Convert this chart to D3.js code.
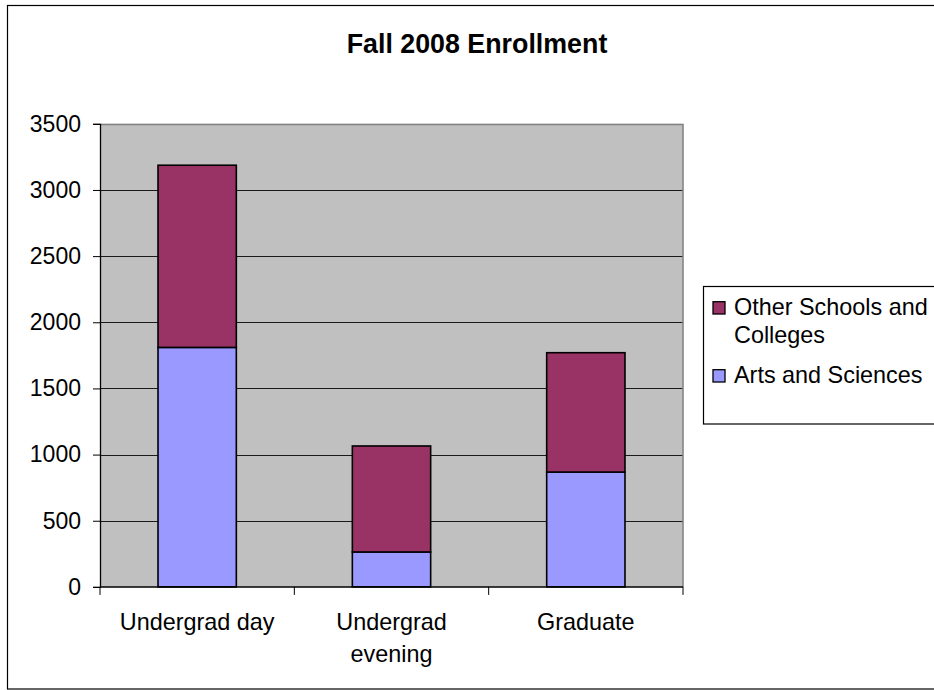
<!DOCTYPE html>
<html>
<head>
<meta charset="utf-8">
<script src="https://cdn.jsdelivr.net/npm/d3@7"></script>
<style>
  html, body { margin: 0; padding: 0; background: #fff; overflow: hidden; }
  svg { display: block; }
  text { font-family: "Liberation Sans", Arial, sans-serif; fill: #000; }
</style>
</head>
<body>
<svg id="chart" width="934" height="690"></svg>
<script>
// ---- data ----
const title = "Fall 2008 Enrollment";
const categories = ["Undergrad day", "Undergrad evening", "Graduate"];
const seriesNames = ["Arts and Sciences", "Other Schools and Colleges"];
const artsSciences = [1810, 264, 868];
const otherSchools = [1377, 801, 902];
const yTicks = [0, 500, 1000, 1500, 2000, 2500, 3000, 3500];

// ---- layout ----
const W = 934, H = 690;
const plot = { left: 100, right: 683, top: 123.8, bottom: 586.9 };
const colors = { "Arts and Sciences": "#9999FF", "Other Schools and Colleges": "#993366" };
const FONT = 23.4;

const svg = d3.select("#chart");

// outer frame
svg.append("rect").attr("x", 7.5).attr("y", 5.5).attr("width", 940).attr("height", 683.5)
  .attr("fill", "#fff").attr("stroke", "#000").attr("stroke-width", 1.2);

// title
svg.append("text").attr("x", 477).attr("y", 53.3).attr("text-anchor", "middle")
  .attr("font-weight", "bold").attr("font-size", 26.8).text(title);

// scales
const x = d3.scaleBand().domain(categories).range([plot.left, plot.right]).padding(0);
const y = d3.scaleLinear().domain([0, 3500]).range([plot.bottom, plot.top]);

// plot background
svg.append("rect").attr("x", plot.left).attr("y", plot.top)
  .attr("width", plot.right - plot.left).attr("height", plot.bottom - plot.top)
  .attr("fill", "#C0C0C0");

// gridlines
svg.append("g").selectAll("line").data(yTicks.filter(d => d > 0 && d < 3500)).join("line")
  .attr("x1", plot.left).attr("x2", plot.right)
  .attr("y1", d => Math.round(y(d)) + 0.5).attr("y2", d => Math.round(y(d)) + 0.5)
  .attr("stroke", "#1a1a1a").attr("stroke-width", 1);

// plot border top/right (gray)
svg.append("path")
  .attr("d", `M${plot.left},${Math.round(plot.top) + 0.5}H${plot.right}V${plot.bottom}`)
  .attr("fill", "none").attr("stroke", "#808080").attr("stroke-width", 1.5);

// stacked bars
const table = categories.map((c, i) => ({
  category: c,
  "Arts and Sciences": artsSciences[i],
  "Other Schools and Colleges": otherSchools[i]
}));
const stacked = d3.stack().keys(seriesNames)(table);
const barW = x.bandwidth() * 0.403;
const barOff = (x.bandwidth() - barW) / 2;

svg.append("g").selectAll("g").data(stacked).join("g")
  .attr("fill", d => colors[d.key])
  .selectAll("rect").data(d => d).join("rect")
  .attr("x", d => x(d.data.category) + barOff)
  .attr("width", barW)
  .attr("y", d => y(d[1]))
  .attr("height", d => y(d[0]) - y(d[1]))
  .attr("stroke", "#000").attr("stroke-width", 1.6);

// y axis
const yAxis = svg.append("g").attr("transform", `translate(${plot.left},0)`)
  .call(d3.axisLeft(y).tickValues(yTicks).tickSize(7).tickPadding(12).tickFormat(d3.format("d")));
yAxis.select(".domain").attr("stroke", "#000").attr("stroke-width", 1.3);
yAxis.selectAll(".tick line").attr("stroke", "#000");
yAxis.selectAll(".tick text").attr("font-size", 23).attr("font-family", '"Liberation Sans", Arial, sans-serif').attr("fill", "#000");

// x axis line
svg.append("line").attr("x1", plot.left).attr("x2", plot.right)
  .attr("y1", plot.bottom).attr("y2", plot.bottom)
  .attr("stroke", "#000").attr("stroke-width", 1.5);

// category ticks at band boundaries
const boundaries = categories.map(c => x(c)).concat([x.range()[1]]);
svg.append("g").selectAll("line").data(boundaries).join("line")
  .attr("x1", d => d).attr("x2", d => d)
  .attr("y1", plot.bottom).attr("y2", plot.bottom + 8)
  .attr("stroke", "#000").attr("stroke-width", 1);

// wrapping helper
function wrapLines(text, maxWidth, fontSize, weight) {
  const tmp = svg.append("text").attr("font-size", fontSize).attr("font-weight", weight || "normal");
  const words = text.split(" ");
  const lines = [];
  let cur = "";
  for (const w of words) {
    const test = cur ? cur + " " + w : w;
    tmp.text(test);
    if (tmp.node().getComputedTextLength() > maxWidth && cur) {
      lines.push(cur);
      cur = w;
    } else {
      cur = test;
    }
  }
  if (cur) lines.push(cur);
  tmp.remove();
  return lines;
}

// category labels
categories.forEach(c => {
  const lines = wrapLines(c, x.bandwidth() * 0.9, FONT);
  const t = svg.append("text").attr("text-anchor", "middle").attr("font-size", FONT)
    .attr("x", x(c) + x.bandwidth() / 2).attr("y", 629.8);
  lines.forEach((ln, i) => {
    t.append("tspan").attr("x", x(c) + x.bandwidth() / 2).attr("dy", i === 0 ? 0 : 32.2).text(ln);
  });
});

// legend
const legend = svg.append("g");
legend.append("rect").attr("x", 703.5).attr("y", 286.5).attr("width", 260).attr("height", 137.5)
  .attr("fill", "#fff").attr("stroke", "#000").attr("stroke-width", 1.2);
const legendItems = seriesNames.slice().reverse();
let ly = 315;
legendItems.forEach(name => {
  legend.append("rect").attr("x", 713).attr("y", ly - 13.3).attr("width", 12).attr("height", 12.3)
    .attr("fill", colors[name]).attr("stroke", "#000").attr("stroke-width", 1.3);
  const lines = wrapLines(name, 202, FONT);
  const t = legend.append("text").attr("font-size", FONT).attr("x", 734).attr("y", ly);
  lines.forEach((ln, i) => {
    t.append("tspan").attr("x", 734).attr("dy", i === 0 ? 0 : 28).text(ln);
  });
  ly += (lines.length - 1) * 28 + 40;
});
</script>
</body>
</html>
